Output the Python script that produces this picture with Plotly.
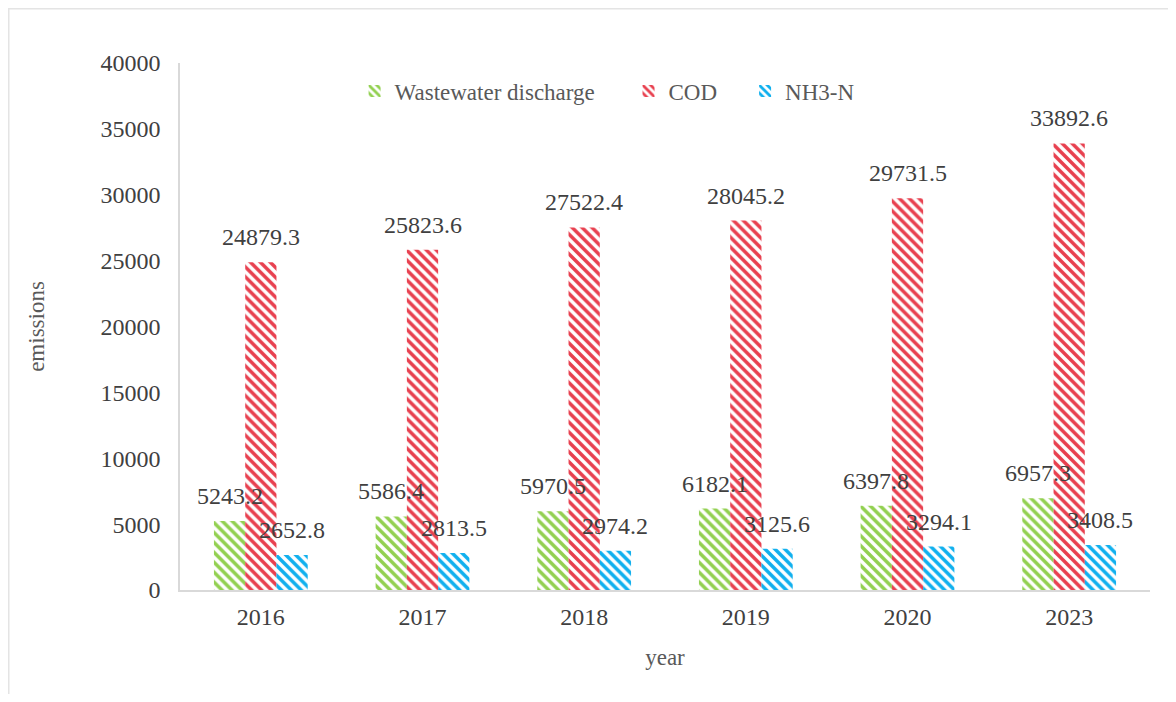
import plotly.graph_objects as go

years = ["2016", "2017", "2018", "2019", "2020", "2023"]
series_names = ["Wastewater discharge", "COD", "NH3-N"]
wastewater = [5243.2, 5586.4, 5970.5, 6182.1, 6397.8, 6957.3]
cod = [24879.3, 25823.6, 27522.4, 28045.2, 29731.5, 33892.6]
nh3n = [2652.8, 2813.5, 2974.2, 3125.6, 3294.1, 3408.5]
y_ticks = [0, 5000, 10000, 15000, 20000, 25000, 30000, 35000, 40000]

colors = ["#92D050", "#E8404F", "#10B0EE"]
legend_pad = [5, 4, 0]
FONT = "Liberation Serif"
BARGAP = 0.42

fig = go.Figure()
all_values = [wastewater, cod, nh3n]
for name, vals, col, pad in zip(series_names, all_values, colors, legend_pad):
    fig.add_trace(go.Bar(
        x=years, y=vals, name=name + "\u00a0" * pad,
        marker=dict(color="white", line=dict(width=0),
                    pattern=dict(shape="\\", fgcolor=col, bgcolor="white",
                                 size=7, solidity=0.5, fillmode="replace")),
    ))

# data labels above each bar
bw = (1 - BARGAP) / 3
for k, vals in enumerate(all_values):
    for i, v in enumerate(vals):
        fig.add_annotation(
            x=i + (k - 1) * bw, y=v, xref="x", yref="y",
            text=f"{v:.1f}", showarrow=False, yanchor="middle", yshift=25,
            font=dict(family=FONT, size=24, color="#404040"),
        )

# outer frame
FW, FH = 1160, 686
L, R, T, B = 172, 18, 55, 104
W, H = FW - L - R, FH - T - B
fig.add_shape(type="rect", xref="paper", yref="paper",
              x0=(0.75 - L) / W, x1=(FW + 30 - L) / W,
              y0=-(B + 30) / H, y1=1 + (T - 0.75) / H,
              line=dict(color="#e4e4e4", width=1.5), fillcolor="rgba(0,0,0,0)", layer="below")

fig.update_layout(
    width=FW, height=FH,
    margin=dict(l=L, r=R, t=T, b=B, autoexpand=False),
    paper_bgcolor="white", plot_bgcolor="white",
    barmode="group", bargap=BARGAP, bargroupgap=0,
    font=dict(family=FONT, size=24, color="#404040"),
    showlegend=True,
    legend=dict(orientation="h", x=0.18, xanchor="left", y=0.947, yanchor="middle",
                font=dict(family=FONT, size=23, color="#595959"),
                bgcolor="rgba(0,0,0,0)", itemsizing="constant", traceorder="normal"),
    xaxis=dict(
        type="category", showgrid=False, showline=True, linecolor="#d9d9d9", linewidth=1.5,
        ticks="", ticklabelstandoff=4,
        tickfont=dict(family=FONT, size=24, color="#404040"),
        title=dict(text="year", font=dict(family=FONT, size=23, color="#595959"), standoff=20),
        automargin=False,
    ),
    yaxis=dict(
        range=[0, 40000], tickvals=y_ticks, ticktext=[str(t) for t in y_ticks],
        showgrid=False, zeroline=False, showline=True, linecolor="#d9d9d9", linewidth=1.5,
        ticks="", ticklabelstandoff=13,
        tickfont=dict(family=FONT, size=24, color="#404040"),
        title=dict(text="emissions", font=dict(family=FONT, size=23, color="#595959"), standoff=49),
        automargin=False,
    ),
)

fig.write_html("out.html")
